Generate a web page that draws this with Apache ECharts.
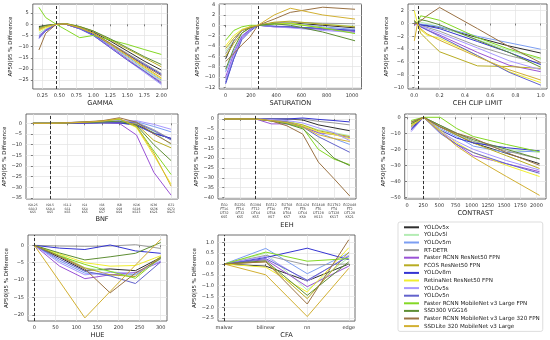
<!DOCTYPE html>
<html><head><meta charset="utf-8">
<script src="https://cdn.jsdelivr.net/npm/echarts@6/dist/echarts.min.js"></script>
<style>html,body{margin:0;padding:0;background:#fff}#c{width:550px;height:340px}</style>
</head><body><div id="c"></div>
<script>
const MODELS = ['YOLOv5x','YOLOv5l','YOLOv5m','RT-DETR','Faster RCNN ResNet50 FPN','FCOS ResNet50 FPN','YOLOv8m','RetinaNet ResNet50 FPN','YOLOv5s','YOLOv5n','Faster RCNN MobileNet v3 Large FPN','SSD300 VGG16','Faster RCNN MobileNet v3 Large 320 FPN','SSDLite 320 MobileNet v3 Large'];
const COLORS = ['#2e2e2e','#b4ecb4','#7c9ef2','#9c9c9c','#9a52d6','#b8ac22','#3434d2','#f0ee30','#a898ff','#6262cc','#84d824','#5e8e34','#9a7244','#d2b032'];

// ---------- GAMMA ----------
const gammaX = [0.2, 0.3, 0.4545, 0.6, 0.8, 1.0, 1.25, 1.5, 1.75, 2.0];
const gammaY = [
  [-1, -0.5, 0, 0.2, -1.5, -3.5, -7.5, -12, -16.5, -20.5],
  [-4, -2, 0, 0, -1.5, -4.5, -9.5, -15, -20.5, -25.5],
  [-5, -2.5, 0, 0, -1.5, -4.5, -9.5, -14.5, -20, -25],
  [-2, -1, 0, 0.2, -1.5, -4, -8.5, -13, -17.5, -22],
  [-5.5, -2.5, 0, 0, -2, -5, -10, -15.5, -21, -26],
  [-2, -1, 0, 0.3, -1, -3, -7, -11, -15, -19],
  [-6, -3, 0, 0, -2, -4.5, -9, -13.5, -18, -22.5],
  [-3, -1.5, 0, 0.2, -1.5, -4, -9, -14, -19.5, -24.5],
  [-6.5, -3, 0, 0, -2, -5, -10.5, -16, -21.5, -27],
  [-6, -3, 0, 0, -2, -5, -10.5, -16, -21, -26.5],
  [7.6, 3, 0, -2.5, -6, -5, -7, -9, -11.3, -13.5],
  [-1.5, -0.5, 0, 0.3, -1, -3, -6.5, -10.5, -14.5, -18],
  [-11.5, -4, 0, 0, -1.5, -4, -8.5, -13.5, -18.5, -23],
  [-2.5, -1, 0, 0.2, -1.5, -4, -9, -14, -19, -24]
];
const gammaXTicks = [0.25, 0.5, 0.75, 1.0, 1.25, 1.5, 1.75, 2.0];
const gammaXLabels = ['0.25','0.50','0.75','1.00','1.25','1.50','1.75','2.00'];
const gammaYTicks = [5, 0, -5, -10, -15, -20, -25];

// ---------- SATURATION ----------
const satX = [0, 64, 128, 192, 256, 384, 512, 768, 1024];
const satY = [
  [-6.5, -3, -1, -0.5, 0, 0.4, 0.5, 0, -0.5],
  [-5, -2.5, -0.8, -0.3, 0, 0.5, 0.6, 0.3, -0.2],
  [-9, -5, -2, -0.8, 0, 0.3, 0.3, -0.3, -0.8],
  [-5.5, -3, -1, -0.3, 0, 0.5, 0.6, 0.4, 0.3],
  [-10, -5.5, -2.2, -0.8, 0, -0.3, -0.4, -0.8, -1.2],
  [-6, -3.5, -1.5, -0.5, 0, 0.6, 0.8, 0.2, -0.3],
  [-11.3, -6.5, -2.5, -1, 0, -0.2, -0.3, -0.6, -1],
  [-4, -2, -0.8, -0.3, 0, 0.3, 0.4, -0.5, -1.5],
  [-10.5, -6, -2.5, -1, 0, -0.3, -0.5, -1, -1.4],
  [-11, -6.5, -2.8, -1.2, 0, -0.2, -0.3, -0.7, -1.1],
  [-2.9, -1, -0.3, 0, 0, 0.2, 0.3, -0.5, -1.6],
  [-8.5, -4.5, -1.5, -0.5, 0, 0.3, 0, -1.3, -3],
  [-7, -5.5, -3.8, -2.3, 0, 1.2, 2.5, 3.5, 3.1],
  [-4.5, -2.5, -1, -0.3, 0, 2, 3.3, 2, 1.2]
];
const satXTicks = [0, 200, 400, 600, 800, 1000];
const satYTicks = [4, 2, 0, -2, -4, -6, -8, -10, -12];

// ---------- CEH CLIP LIMIT ----------
const cehX = [0, 0.025, 0.05, 0.1, 0.2, 0.5, 0.75, 1.0];
const cehY = [
  [0.2, 0, -0.2, -0.3, -0.6, -2.2, -3.5, -4.6],
  [0.3, 0, 0.2, 0, -0.5, -2.5, -4.2, -5.6],
  [0.5, 0, -0.1, -0.2, -0.5, -2, -3, -4],
  [0.3, 0, -0.3, -0.6, -1.2, -3.5, -5, -6.2],
  [-0.3, 0, -0.5, -1, -1.8, -4.5, -6.5, -7.5],
  [0.5, 0, -1.5, -2.5, -4.4, -6.6, -6.7, -7],
  [0, 0, -0.2, -0.4, -0.8, -2.8, -4.5, -6.4],
  [2, 0, -1, -1.8, -2.3, -5, -7.5, -9.2],
  [0.2, 0, -0.4, -0.8, -1.5, -3.8, -5.8, -7.2],
  [0, 0, -0.5, -1, -2, -5, -7.6, -9.6],
  [0, 0, 1.2, 1.0, 0.5, -2.2, -4, -5.4],
  [0.3, 0, 0.6, 0.4, -0.2, -2.6, -4.5, -6.8],
  [0, 0, 0.4, 1.2, 2.5, -0.8, -3.6, -6.1],
  [-2.7, 0, -0.8, -1.6, -2.6, -5.2, -7.2, -8.8]
];
const cehXTicks = [0, 0.2, 0.4, 0.6, 0.8, 1.0];
const cehXLabels = ['0.0','0.2','0.4','0.6','0.8','1.0'];
const cehYTicks = [2, 0, -2, -4, -6, -8, -10];

// ---------- BNF ----------
const bnfCats = ['IS0.25\nSS0.3\nKS5','IS0.5\nSS0.4\nKS5','IS1.2\nSS1\nKS5','IS4\nSS4\nKS5','IS6\nSS6\nKS7','IS8\nSS8\nKS9','IS16\nSS16\nKS13','IS36\nSS36\nKS21','IS72\nSS72\nKS25'];
const bnfY = [
  [0, 0, 0, 0.2, 0.3, 0.3, -0.5, -4.5, -7.2],
  [0, 0, 0.2, 0.4, 0.6, 1, 0, -4, -10],
  [0, 0, 0.3, 0.5, 0.7, 1, 0.8, -1.5, -4],
  [0, 0, 0.2, 0.4, 0.5, 0.8, 0.5, -3, -7.5],
  [0, 0, 0, 0.2, 0.3, 0, -5.5, -23, -33.7],
  [0, 0, 0.3, 0.6, 1, 1.8, -0.5, -8, -11.5],
  [0, 0, 0, 0.1, 0.2, 0.2, -1, -4.8, -7],
  [0, 0, 0.2, 0.5, 1, 2, -2, -15, -28.5],
  [0, 0, 0.4, 0.6, 0.8, 1.2, 1.2, -0.5, -2.8],
  [0, 0, 0.1, 0.3, 0.4, 0.6, 0.2, -3.5, -7.8],
  [0, 0, 0.3, 0.6, 1, 2, -1.5, -13, -24],
  [0, 0, 0.2, 0.4, 0.6, 1, -1, -10, -17.5],
  [0, 0, 0.3, 0.7, 1.2, 2.6, 0.5, -5, -9.5],
  [0, 0, 0.2, 0.5, 1, 2.2, -1.5, -14, -29.5]
];
const bnfYTicks = [0, -5, -10, -15, -20, -25, -30, -35];

// ---------- EEH ----------
const eehCats = ['EG0\nFT16\nDT32\nKS5','EG256\nFT16\nDT32\nKS5','EG384\nFT12\nDT64\nKS5','EG512\nFT10\nDT64\nKS7','EG768\nFT8\nDT64\nKS7','EG1024\nFT8\nDT64\nKS9','EG1408\nFT6\nDT128\nKS13','EG1792\nFT4\nDT128\nKS17','EG2048\nFT2\nDT128\nKS21'];
const eehY = [
  [0, 0, 0, 0, 0, -0.5, -3, -4.5, -6],
  [0, 0, 0, -0.5, -1, -3, -5.5, -7, -8.5],
  [0, 0, 0, -0.8, -1.5, -3.5, -7, -10, -13],
  [0, 0, 0, 0, 0, 0, -1.2, -2, -3],
  [0, 0, 0, -2.5, -2.5, -4, -7, -8, -9.5],
  [0, 0, 0, -0.5, -1.5, -3, -6, -7.5, -9],
  [0, 0, 0, 0, 0, 0.5, -0.2, -0.8, -1.5],
  [0, 0, 0, -0.5, -1.5, -3.5, -6.5, -8, -10],
  [0, 0, 0, -0.3, -0.8, -2, -4.5, -7, -11],
  [0, 0, 0, -0.8, -1.5, -4, -9, -13, -17],
  [0, 0, 0, -1, -2, -4.5, -15.5, -20.5, -23.3],
  [0, 0, 0, -1, -2.5, -5, -12, -20, -23.8],
  [0, 0, 0, -1, -3.5, -7.7, -22, -30.5, -39.3],
  [0, 0, 0, -0.8, -1.8, -4, -8, -10, -11.5]
];
const eehYTicks = [0, -5, -10, -15, -20, -25, -30, -35, -40];

// ---------- CONTRAST ----------
const conX = [64, 256, 512, 768, 1024, 1536, 2048];
const conY = [
  [-5, 0, -6, -11, -16, -22.5, -29],
  [-3, 0, -5, -10, -15, -20, -22],
  [-6, 0, -7, -12, -18, -22, -21],
  [-3, 0, -5, -10, -15, -21, -26],
  [-8, 0, -9, -17, -24, -29, -34],
  [-4, 0, -6, -11, -16, -24, -32],
  [-7, 0, -8, -13, -16, -19, -21],
  [-5, 0, -8, -16, -22, -30, -37],
  [-9, 0, -9, -15, -20, -27, -33],
  [-8, 0, -10, -17, -22, -29, -35],
  [-2, 0, 0, -7, -12, -17, -21.5],
  [-4, 0, -5, -10, -14, -20, -26],
  [-3, 0, -6, -10, -13, -22, -30],
  [-6, 0, -9, -18, -25, -37, -48.8]
];
const conXTicks = [0, 250, 500, 750, 1000, 1250, 1500, 1750, 2000];
const conYTicks = [0, -10, -20, -30, -40, -50];

// ---------- HUE ----------
const hueX = [0, 60, 120, 180, 240, 300];
const hueY = [
  [0, -3.5, -7.2, -6.8, -7.3, -3.5],
  [0, -2.5, -6.5, -7.5, -8.5, -4],
  [0, -4.5, -8, -8.5, -8.5, -3.8],
  [0, -0.2, -0.3, -0.2, 0.2, -0.9],
  [0, -6, -9.6, -8.5, -7.8, -4.8],
  [0, -3, -6.5, -8.5, -9, -3.2],
  [0, -0.8, -1.2, 0.1, -1.6, -2.3],
  [0, -2.5, -5, -6, -5.8, -3],
  [0, -5, -8.5, -7.8, -8, -4.5],
  [0, -4, -7.5, -8.8, -11, -4.8],
  [0, -3, -5.5, -7.5, -9.5, -3.5],
  [0, -2.2, -4.2, -3.3, -2.3, 0.8],
  [0, -3.2, -6.8, -13.7, -8, -3.8],
  [0, -10.4, -20.9, -13.3, -5.7, 1.7]
];
const hueXTicks = [0, 50, 100, 150, 200, 250, 300];
const hueYTicks = [0, -5, -10, -15, -20];

// ---------- CFA ----------
const cfaCats = ['malvar', 'bilinear', 'nn', 'edge'];
const cfaY = [
  [0, -0.1, -0.78, 0],
  [0, 0.5, -1.2, 0.3],
  [0, 0.72, -0.45, 0.5],
  [0, 0.4, -0.05, 0],
  [0, 0.2, -1.05, -0.1],
  [0, 0.1, -1.6, 0.55],
  [0, 0.3, 0.73, 0.2],
  [0, -0.15, -1.3, 0.75],
  [0, 0.35, -0.8, 0.4],
  [0, 0.25, -0.75, 0.35],
  [0, 0.55, 0.13, 0.25],
  [0, 0.15, -1.45, 0.1],
  [0, 0.1, -1.85, 1.12],
  [0, -0.5, -2.43, -0.2]
];
const cfaYTicks = [1.0, 0.5, 0.0, -0.5, -1.0, -1.5, -2.0, -2.5];

const idx = n => Array.from({length: n}, (_, i) => i);

const panels = [
  {title:'GAMMA', x: gammaX, y: gammaY, ref: 0.4545, xt: gammaXTicks, xl: gammaXLabels, yt: gammaYTicks},
  {title:'SATURATION', x: satX, y: satY, ref: 256, xt: satXTicks, yt: satYTicks},
  {title:'CEH CLIP LIMIT', x: cehX, y: cehY, ref: 0.025, xt: cehXTicks, xl: cehXLabels, yt: cehYTicks},
  {title:'BNF', x: idx(9), y: bnfY, ref: 1, xt: idx(9), xl: bnfCats, yt: bnfYTicks},
  {title:'EEH', x: idx(9), y: eehY, ref: 2, xt: idx(9), xl: eehCats, yt: eehYTicks},
  {title:'CONTRAST', x: conX, y: conY, ref: 256, xt: conXTicks, yt: conYTicks},
  {title:'HUE', x: hueX, y: hueY, ref: 0, xt: hueXTicks, yt: hueYTicks},
  {title:'CFA', x: idx(4), y: cfaY, ref: 0, xt: idx(4), xl: cfaCats, yt: cfaYTicks, yfmt: 1}
];

// layout: [left, top, right, bottom], x range, y range, gaps
const layout = [
  {box:[32.8,4,167.4,89], xr:[0.11,2.09], yr:[-29.0,9.1], xng:9.5, yng:19},
  {box:[219.2,4,361.5,89], xr:[-51.2,1075.2], yr:[-12.33,4.12], xng:10, yng:15},
  {box:[408,4,547,89], xr:[-0.05,1.05], yr:[-10.2,3.04], xng:9, yng:16},
  {box:[26,114,178,199], xr:[-0.4,8.4], yr:[-35.5,4.37], xng:17, yng:15, xfs:3.1, xlh:3.3, xm:5},
  {box:[218,114,356,199], xr:[-0.4,8.4], yr:[-40.85,2.55], xng:23, yng:18, xfs:3.3, xlh:4, xm:4},
  {box:[404.7,114,546,199], xr:[-35.2,2147.2], yr:[-51.06,2.06], xng:10, yng:16},
  {box:[28,235,167,321], xr:[-15,315], yr:[-21.8,2.98], xng:10, yng:16},
  {box:[218,235,355,322], xr:[-0.15,3.15], yr:[-2.64,1.34], xng:9, yng:11}
];

const minus = s => String(s).replace('-', '\u2212');
const FONT = 'DejaVu Sans';
const grids = [], xAxes = [], yAxes = [], series = [];

panels.forEach((p, gi) => {
  const L = layout[gi];
  const [l, t, r, b] = L.box;
  grids.push({left: l, top: t, width: r - l, height: b - t, show: true, borderColor: '#4a4a4a', borderWidth: 0.8, backgroundColor: 'rgba(0,0,0,0)'});
  const xlab = v => {
    const k = p.xt.findIndex(u => Math.abs(u - v) < 1e-9);
    if (p.xl) return k >= 0 ? p.xl[k] : '';
    return minus(v);
  };
  xAxes.push({
    type: 'value', gridIndex: gi, min: L.xr[0], max: L.xr[1],
    name: p.title, nameLocation: 'middle', nameGap: L.xng,
    nameTextStyle: {fontFamily: FONT, fontSize: 6.6, color: '#1a1a1a'},
    axisLine: {show: false},
    axisTick: {show: true, length: 2, customValues: p.xt, lineStyle: {color: '#4a4a4a', width: 0.7}},
    axisLabel: {customValues: p.xt, formatter: xlab, fontFamily: FONT, fontSize: L.xfs || 5, lineHeight: L.xlh || 6, margin: L.xm || 4, color: '#333', showMinLabel: true, showMaxLabel: true},
    splitLine: {show: true, lineStyle: {color: '#e2e2e2', width: 0.7}}
  });
  yAxes.push({
    type: 'value', gridIndex: gi, min: L.yr[0], max: L.yr[1],
    name: 'AP50|95 % Difference', nameLocation: 'middle', nameGap: L.yng, nameRotate: 90,
    nameTextStyle: {fontFamily: FONT, fontSize: 5.5, color: '#1a1a1a'},
    axisLine: {show: false},
    axisTick: {show: true, length: 2, customValues: p.yt, lineStyle: {color: '#4a4a4a', width: 0.7}},
    axisLabel: {customValues: p.yt, formatter: v => minus(p.yfmt ? v.toFixed(1) : v), fontFamily: FONT, fontSize: 5, margin: 4, color: '#333'},
    splitLine: {show: true, lineStyle: {color: '#e2e2e2', width: 0.7}}
  });
  p.y.forEach((row, si) => {
    const s = {
      type: 'line', name: MODELS[si], xAxisIndex: gi, yAxisIndex: gi,
      data: p.x.map((xv, k) => [xv, row[k]]),
      showSymbol: false, symbol: 'none', silent: true, animation: false,
      lineStyle: {width: 1, color: COLORS[si]}, itemStyle: {color: COLORS[si]}
    };
    if (si === 0) {
      s.markLine = {silent: true, symbol: ['none', 'none'], animation: false, label: {show: false},
        lineStyle: {type: [3, 2], color: '#333', width: 1}, data: [{xAxis: p.ref}]};
    }
    series.push(s);
  });
});

const chart = echarts.init(document.getElementById('c'), null, {renderer: 'canvas'});
chart.setOption({
  animation: false,
  backgroundColor: '#fff',
  textStyle: {fontFamily: FONT},
  grid: grids, xAxis: xAxes, yAxis: yAxes, series: series,
  legend: {
    data: MODELS, orient: 'vertical', left: 398, top: 222,
    padding: [1.5, 3, 1.5, 6], itemGap: 0, itemWidth: 15, itemHeight: 2, icon: 'rect',
    borderColor: '#d4d4d4', borderWidth: 0.8, borderRadius: 2,
    textStyle: {fontFamily: FONT, fontSize: 5.6, lineHeight: 7.6, color: '#222'},
    selectedMode: false
  }
});
</script></body></html>
